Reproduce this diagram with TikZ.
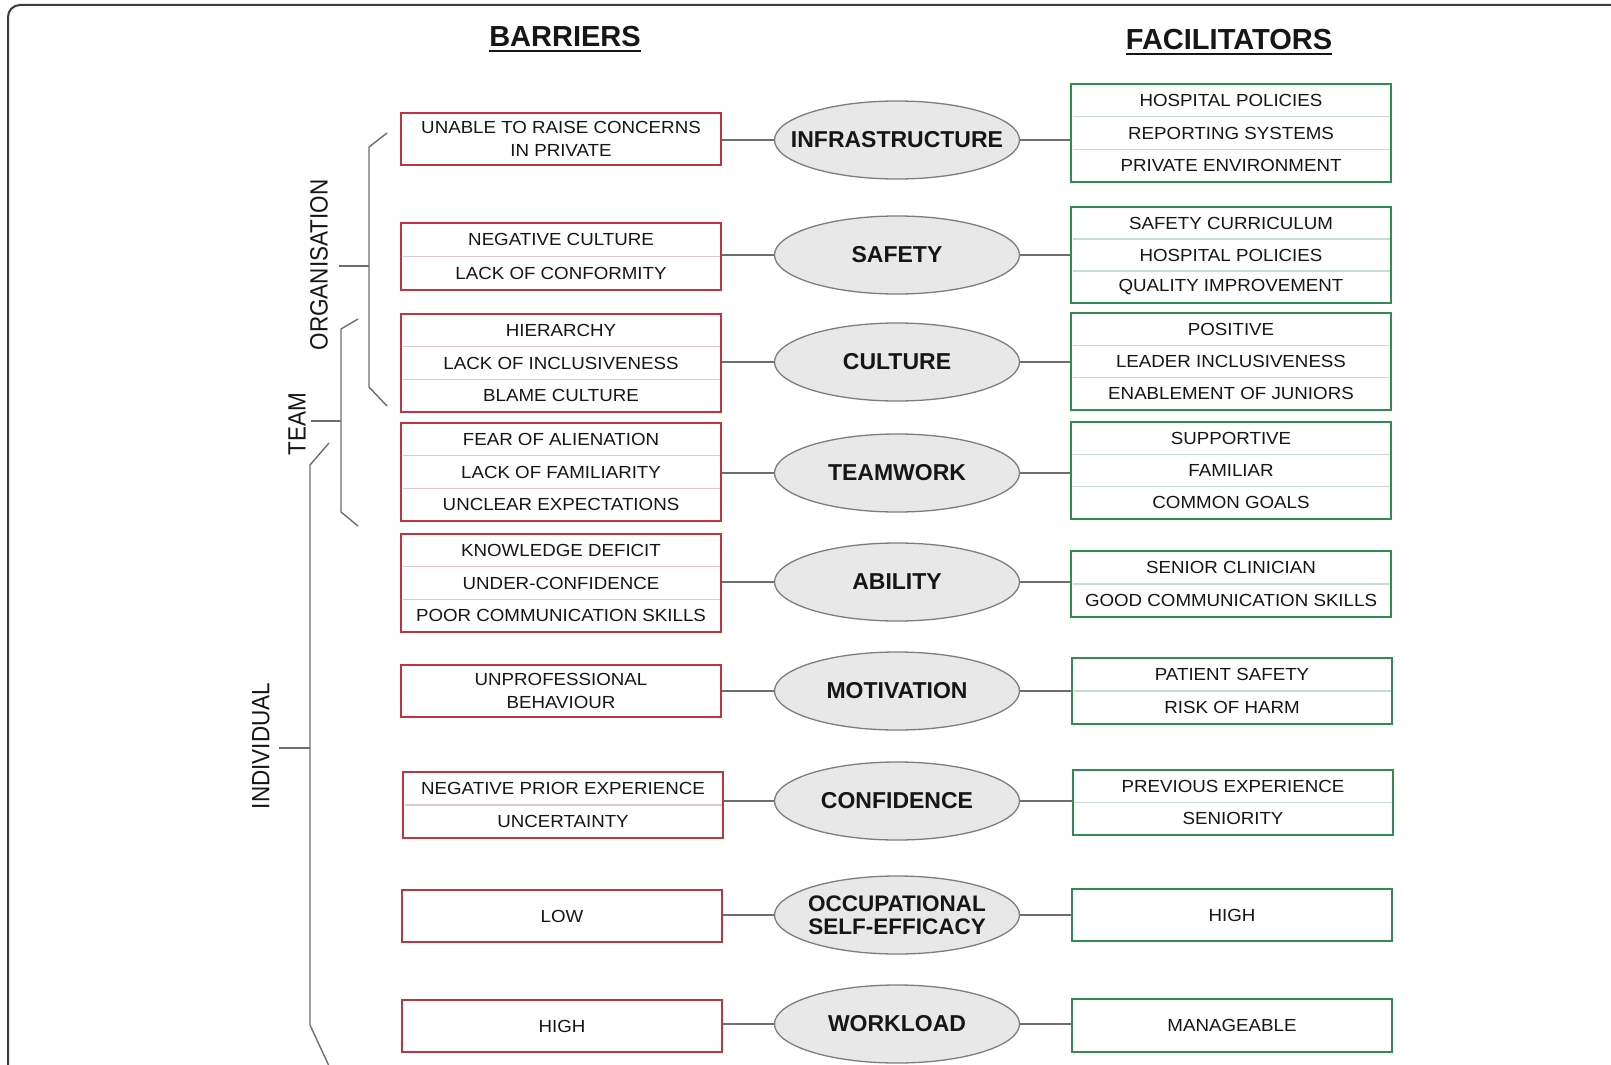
\documentclass[tikz,border=0pt]{standalone}
\usepackage{fontspec}
\setmainfont{Liberation Sans}
\newfontfamily\boxfont[FakeStretch=1.07]{Liberation Sans}
\newfontfamily\sidefont[FakeStretch=0.9]{Liberation Sans}
\usetikzlibrary{shapes.geometric,calc}
\definecolor{barred}{RGB}{192,52,66}
\definecolor{barsepc}{RGB}{226,198,202}
\definecolor{facgreen}{RGB}{46,142,82}
\definecolor{facsepc}{RGB}{198,222,206}
\definecolor{ellfill}{RGB}{232,232,232}
\definecolor{ellline}{RGB}{125,125,125}
\definecolor{conncol}{RGB}{110,110,110}
\definecolor{txt}{RGB}{22,22,22}
\definecolor{framecol}{RGB}{60,60,60}
\tikzset{
  barbox/.style={draw=barred, line width=1.8pt, fill=white, inner sep=0pt},
  barsep/.style={draw=barsepc, line width=1.2pt},
  facbox/.style={draw=facgreen, line width=1.8pt, fill=white, inner sep=0pt},
  facsep/.style={draw=facsepc, line width=1.2pt},
  boxtext/.style={font={\boxfont\fontsize{17.5pt}{23pt}\selectfont}, text=txt, align=center, inner sep=0pt},
  ell/.style={ellipse, draw=ellline, line width=1.3pt, fill=ellfill, minimum width=245, minimum height=78, inner sep=0pt},
  elltext/.style={font={\bfseries\fontsize{23pt}{23pt}\selectfont}, text=txt, align=center, inner sep=0pt},
  conn/.style={draw=conncol, line width=1.3pt},
  brk/.style={draw=conncol, line width=1.4pt},
  sidelabel/.style={font={\sidefont\fontsize{25pt}{25pt}\selectfont}, text=txt, inner sep=0pt, rotate=90},
  hdr/.style={font={\bfseries\fontsize{29pt}{29pt}\selectfont}, text=txt, inner sep=0pt, anchor=base},
}
\newcommand{\mkbox}[8]{%
  \node[#2box, minimum width={#5-#3}, minimum height={#6-#4}] (#1) at ({(#3+#5)/2},{(#4+#6)/2}) {};
  \foreach \itm [count=\i] in {#8} {%
    \ifnum\i<#7\relax
      \pgfmathsetmacro\ys{#4+\i*(#6-#4)/#7}%
      \draw[#2sep] ({#3+1.5},\ys) -- ({#5-1.5},\ys);%
    \fi
    \pgfmathsetmacro\yc{#4+(\i-0.5)*(#6-#4)/#7}%
    \node[boxtext] (#1-\i) at ({(#3+#5)/2},\yc) {\itm};%
  }%
}
\begin{document}
\begin{tikzpicture}[x=1pt,y=-1pt]
\useasboundingbox (0,0) rectangle (1611,1065);
\fill[white] (0,0) rectangle (1611,1065);
% frame
\draw[framecol, line width=2pt, rounded corners=12pt] (8,1066) -- (8,5) -- (1612,5);

% headers
\node[hdr] (hb) at (565,47) {BARRIERS};
\draw[txt, line width=2pt] ([yshift=-4pt]hb.base west) -- ([yshift=-4pt]hb.base east);
\node[hdr] (hf) at (1229,50) {FACILITATORS};
\draw[txt, line width=2pt] ([yshift=-4pt]hf.base west) -- ([yshift=-4pt]hf.base east);

% side brackets
\draw[brk] (387,133) -- (369,147) -- (369,387) -- (387,406);
\draw[brk] (339,266) -- (369,266);
\draw[brk] (358,319) -- (341,329) -- (341,512) -- (358,526);
\draw[brk] (311,421) -- (341,421);
\draw[brk] (329,443) -- (310,465) -- (310,1025) -- (329,1066);
\draw[brk] (279,748) -- (310,748);
\node[sidelabel] (lorg) at (319,265) {ORGANISATION};
\node[sidelabel] (lteam) at (297,424) {TEAM};
\node[sidelabel] (lind) at (261,746) {INDIVIDUAL};

% barrier boxes
\mkbox{b1}{bar}{401}{113}{721}{165}{1}{{UNABLE TO RAISE CONCERNS\\IN PRIVATE}}
\mkbox{b2}{bar}{401}{223}{721}{290}{2}{NEGATIVE CULTURE,LACK OF CONFORMITY}
\mkbox{b3}{bar}{401}{314}{721}{412}{3}{HIERARCHY,LACK OF INCLUSIVENESS,BLAME CULTURE}
\mkbox{b4}{bar}{401}{423}{721}{521}{3}{FEAR OF ALIENATION,LACK OF FAMILIARITY,UNCLEAR EXPECTATIONS}
\mkbox{b5}{bar}{401}{534}{721}{632}{3}{KNOWLEDGE DEFICIT,UNDER-CONFIDENCE,POOR COMMUNICATION SKILLS}
\mkbox{b6}{bar}{401}{665}{721}{717}{1}{{UNPROFESSIONAL\\BEHAVIOUR}}
\mkbox{b7}{bar}{403}{772}{723}{838}{2}{NEGATIVE PRIOR EXPERIENCE,UNCERTAINTY}
\mkbox{b8}{bar}{402}{890}{722}{942}{1}{LOW}
\mkbox{b9}{bar}{402}{1000}{722}{1052}{1}{HIGH}

% facilitator boxes
\mkbox{f1}{fac}{1071}{84}{1391}{182}{3}{HOSPITAL POLICIES,REPORTING SYSTEMS,PRIVATE ENVIRONMENT}
\mkbox{f2}{fac}{1071}{207}{1391}{303}{3}{SAFETY CURRICULUM,HOSPITAL POLICIES,QUALITY IMPROVEMENT}
\mkbox{f3}{fac}{1071}{313}{1391}{410}{3}{POSITIVE,LEADER INCLUSIVENESS,ENABLEMENT OF JUNIORS}
\mkbox{f4}{fac}{1071}{422}{1391}{519}{3}{SUPPORTIVE,FAMILIAR,COMMON GOALS}
\mkbox{f5}{fac}{1071}{551}{1391}{617}{2}{SENIOR CLINICIAN,GOOD COMMUNICATION SKILLS}
\mkbox{f6}{fac}{1072}{658}{1392}{724}{2}{PATIENT SAFETY,RISK OF HARM}
\mkbox{f7}{fac}{1073}{770}{1393}{835}{2}{PREVIOUS EXPERIENCE,SENIORITY}
\mkbox{f8}{fac}{1072}{889}{1392}{941}{1}{HIGH}
\mkbox{f9}{fac}{1072}{999}{1392}{1052}{1}{MANAGEABLE}

% ellipses
\node[ell] (e1) at (897,140) {};
\node[ell] (e2) at (897,255) {};
\node[ell] (e3) at (897,362) {};
\node[ell] (e4) at (897,473) {};
\node[ell] (e5) at (897,582) {};
\node[ell] (e6) at (897,691) {};
\node[ell] (e7) at (897,801) {};
\node[ell] (e8) at (897,915) {};
\node[ell] (e9) at (897,1024) {};
\node[elltext] (e1t) at (e1) {INFRASTRUCTURE};
\node[elltext] (e2t) at (e2) {SAFETY};
\node[elltext] (e3t) at (e3) {CULTURE};
\node[elltext] (e4t) at (e4) {TEAMWORK};
\node[elltext] (e5t) at (e5) {ABILITY};
\node[elltext] (e6t) at (e6) {MOTIVATION};
\node[elltext] (e7t) at (e7) {CONFIDENCE};
\node[elltext, font={\bfseries\fontsize{22.5pt}{22.5pt}\selectfont}] (e8t) at (e8) {OCCUPATIONAL\\SELF-EFFICACY};
\node[elltext] (e9t) at (e9) {WORKLOAD};

% connectors
\foreach \k in {1,...,9} {
  \draw[conn] (b\k.east |- e\k) -- (e\k.west);
  \draw[conn] (e\k.east) -- (e\k.east -| f\k.west);
}
\end{tikzpicture}
\end{document}
